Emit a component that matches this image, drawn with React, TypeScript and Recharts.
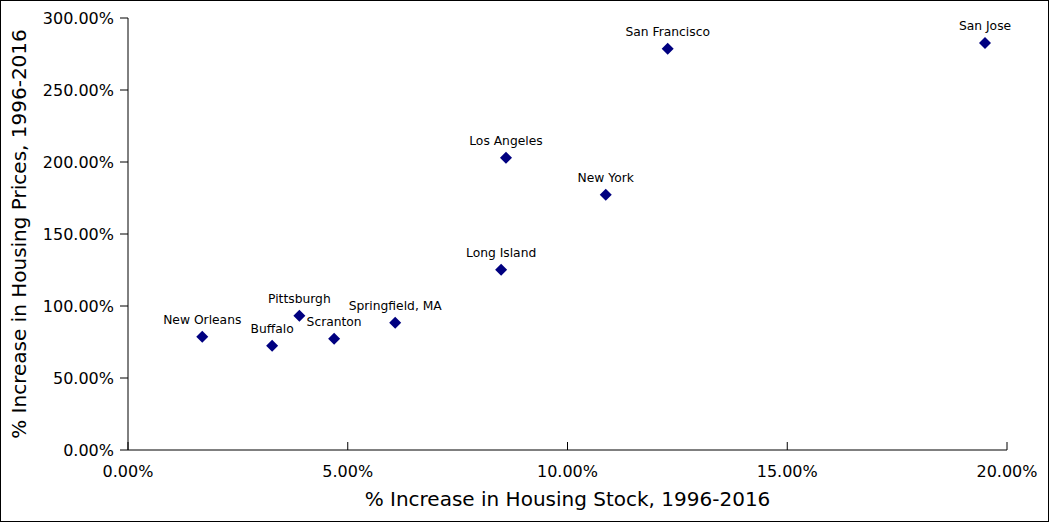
import { ScatterChart, Scatter, XAxis, YAxis } from "recharts";

const cities = [
  "New Orleans",
  "Buffalo",
  "Pittsburgh",
  "Scranton",
  "Springfield, MA",
  "Long Island",
  "Los Angeles",
  "New York",
  "San Francisco",
  "San Jose",
];
const stockIncrease = [1.69, 3.28, 3.9, 4.69, 6.08, 8.49, 8.6, 10.87, 12.28, 19.5];
const priceIncrease = [78.7, 72.4, 93.3, 77.3, 88.4, 125.2, 203, 177.3, 278.7, 282.6];

const xTicks = [0, 5, 10, 15, 20];
const yTicks = [0, 50, 100, 150, 200, 250, 300];

const FONT = "'DejaVu Sans', sans-serif";

const points = cities.map((city, i) => ({
  city,
  x: stockIncrease[i],
  y: priceIncrease[i],
}));

const pct = (v: number) => `${v.toFixed(2)}%`;

function CityMarker(props: any) {
  const { cx, cy, payload } = props;
  const r = 6;
  return (
    <g>
      <polygon
        points={`${cx},${cy - r} ${cx + r},${cy} ${cx},${cy + r} ${cx - r},${cy}`}
        fill="#000080"
      />
      <text x={cx} y={cy - 13} textAnchor="middle" fontSize={12.3} fontFamily={FONT} fill="#000">
        {payload.city}
      </text>
    </g>
  );
}

function XTick(props: any) {
  const { x, y, payload } = props;
  return (
    <g>
      <line x1={x} y1={y} x2={x} y2={y - 8} stroke="#000" />
      <text x={x} y={y + 27} textAnchor="middle" fontSize={16} fontFamily={FONT} fill="#000">
        {pct(payload.value)}
      </text>
    </g>
  );
}

export default function App() {
  return (
    <div style={{ position: "fixed", left: 0, top: 0, width: 1049, height: 522, background: "#fff" }}>
      <ScatterChart width={1049} height={522} margin={{ top: 18, right: 42, bottom: 0, left: 0 }}>
        <XAxis
          type="number"
          dataKey="x"
          domain={[0, 20]}
          ticks={xTicks}
          height={72}
          tickSize={0}
          tickMargin={0}
          tickLine={false}
          tick={<XTick />}
          axisLine={{ stroke: "#000" }}
          label={{
            content: (p: any) => {
              const vb = p.viewBox;
              return (
                <text
                  x={vb.x + vb.width / 2}
                  y={vb.y + 56}
                  textAnchor="middle"
                  fontSize={20}
                  fontFamily={FONT}
                  fill="#000"
                >
                  % Increase in Housing Stock, 1996-2016
                </text>
              );
            },
          }}
        />
        <YAxis
          type="number"
          dataKey="y"
          domain={[0, 300]}
          ticks={yTicks}
          width={128}
          tickSize={8}
          tickMargin={6}
          tickFormatter={pct}
          tick={{ fontSize: 16, fontFamily: FONT, fill: "#000" }}
          tickLine={{ stroke: "#000" }}
          axisLine={{ stroke: "#000" }}
          label={{
            content: (p: any) => {
              const vb = p.viewBox;
              const cx = 26;
              const cy = vb.y + vb.height / 2;
              return (
                <text
                  x={cx}
                  y={cy}
                  textAnchor="middle"
                  fontSize={20}
                  fontFamily={FONT}
                  fill="#000"
                  transform={`rotate(-90, ${cx}, ${cy})`}
                >
                  % Increase in Housing Prices, 1996-2016
                </text>
              );
            },
          }}
        />
        <Scatter data={points} shape={<CityMarker />} isAnimationActive={false} />
      </ScatterChart>
      <div
        style={{
          position: "absolute",
          left: 0,
          top: 0,
          width: 1049,
          height: 522,
          boxSizing: "border-box",
          border: "1px solid #000",
          pointerEvents: "none",
        }}
      />
    </div>
  );
}
